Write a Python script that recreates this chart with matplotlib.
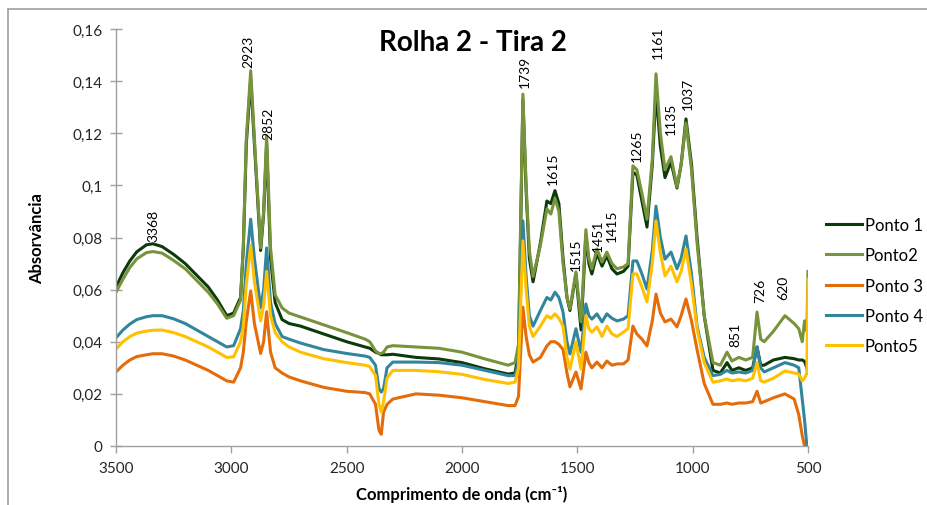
import matplotlib
matplotlib.use('Agg')
import matplotlib.pyplot as plt
from matplotlib.lines import Line2D
from matplotlib.ticker import FuncFormatter

plt.rcParams['font.family'] = ['Lato', 'DejaVu Sans']

# Wavenumbers (cm-1) shared by all spectra
wavenumber = [
    3500, 3470, 3440, 3410, 3368, 3340, 3300, 3250, 3200, 3150, 3100, 3060, 3020, 2990, 2960,
    2948, 2935, 2916, 2900, 2873, 2860, 2847, 2830, 2810, 2780, 2750,
    2700, 2600, 2500, 2420, 2400, 2375, 2360, 2350, 2340, 2325, 2300, 2200, 2100, 2000, 1900, 1800,
    1770, 1755, 1736, 1722, 1708, 1692, 1660, 1632, 1615, 1597, 1580, 1562, 1545, 1532,
    1506, 1484, 1463, 1450, 1437, 1415, 1393, 1372, 1350, 1328, 1300, 1280,
    1259, 1242, 1220, 1198, 1175, 1159, 1140, 1120, 1094, 1068, 1050, 1029, 1005,
    981, 950, 912, 880, 851, 830, 800, 770, 740, 721, 705, 690, 650, 600, 560, 540, 525, 515, 505, 500,
]

ponto1 = [
    0.061, 0.0665, 0.071, 0.0745, 0.0772, 0.0776, 0.0765, 0.0735, 0.070, 0.0655, 0.061, 0.056, 0.050, 0.051, 0.057,
    0.076, 0.116, 0.141, 0.116, 0.075, 0.089, 0.116, 0.072, 0.055, 0.0485, 0.047,
    0.046, 0.043, 0.040, 0.038, 0.0375, 0.036, 0.0355, 0.035, 0.035, 0.035, 0.0352, 0.034, 0.0334, 0.032, 0.0296, 0.0276,
    0.028, 0.036, 0.133, 0.098, 0.072, 0.063, 0.078, 0.094, 0.093, 0.098, 0.093, 0.072, 0.057, 0.052,
    0.066, 0.0445, 0.081, 0.070, 0.066, 0.074, 0.069, 0.073, 0.068, 0.066, 0.067, 0.069,
    0.105, 0.104, 0.094, 0.084, 0.108, 0.136, 0.115, 0.103, 0.109, 0.099, 0.108, 0.1255, 0.108,
    0.080, 0.050, 0.029, 0.028, 0.032, 0.029, 0.030, 0.029, 0.030, 0.038, 0.031, 0.031, 0.033, 0.034, 0.0335, 0.033, 0.033, 0.0325, 0.030, 0.028,
]

ponto2 = [
    0.059, 0.064, 0.0685, 0.0718, 0.0742, 0.0746, 0.074, 0.0712, 0.068, 0.0635, 0.059, 0.0545, 0.049, 0.050, 0.056,
    0.077, 0.118, 0.144, 0.118, 0.076, 0.090, 0.119, 0.076, 0.058, 0.053, 0.051,
    0.0495, 0.0465, 0.0435, 0.041, 0.040, 0.0365, 0.0355, 0.0355, 0.036, 0.038, 0.0385, 0.038, 0.0375, 0.036, 0.0334, 0.031,
    0.032, 0.039, 0.135, 0.100, 0.075, 0.065, 0.077, 0.091, 0.089, 0.095, 0.090, 0.070, 0.057, 0.0526,
    0.0668, 0.0476, 0.083, 0.072, 0.068, 0.0756, 0.0706, 0.0744, 0.070, 0.068, 0.0687, 0.070,
    0.1075, 0.106, 0.097, 0.087, 0.110, 0.1428, 0.120, 0.106, 0.111, 0.0994, 0.108, 0.124, 0.106,
    0.078, 0.050, 0.032, 0.031, 0.036, 0.0326, 0.034, 0.033, 0.034, 0.0514, 0.041, 0.040, 0.044, 0.050, 0.047, 0.045, 0.040, 0.048, 0.044, 0.067,
]

ponto3 = [
    0.0284, 0.031, 0.033, 0.0343, 0.035, 0.0354, 0.0354, 0.0345, 0.033, 0.031, 0.029, 0.027, 0.025, 0.0245, 0.030,
    0.036, 0.048, 0.0595, 0.047, 0.0355, 0.040, 0.0515, 0.036, 0.030, 0.028, 0.0265,
    0.025, 0.0225, 0.021, 0.0205, 0.020, 0.016, 0.006, 0.0045, 0.013, 0.016, 0.018, 0.020, 0.0195, 0.0185, 0.017, 0.0155,
    0.0155, 0.019, 0.0533, 0.042, 0.035, 0.0322, 0.034, 0.0384, 0.040, 0.040, 0.039, 0.037, 0.028, 0.0227,
    0.0284, 0.0219, 0.036, 0.032, 0.030, 0.0322, 0.030, 0.0326, 0.031, 0.0315, 0.0315, 0.033,
    0.046, 0.043, 0.041, 0.0384, 0.048, 0.0583, 0.051, 0.0476, 0.0487, 0.0457, 0.050, 0.0564, 0.048,
    0.037, 0.024, 0.016, 0.016, 0.0165, 0.016, 0.0165, 0.0165, 0.017, 0.021, 0.0165, 0.017, 0.0185, 0.020, 0.018, 0.012, 0.004, 0.000, -0.002, -0.003,
]

ponto4 = [
    0.0415, 0.0445, 0.0468, 0.0485, 0.0496, 0.050, 0.050, 0.0488, 0.047, 0.0445, 0.042, 0.040, 0.038, 0.0385, 0.045,
    0.052, 0.070, 0.087, 0.072, 0.053, 0.060, 0.076, 0.055, 0.047, 0.042, 0.041,
    0.0395, 0.037, 0.0355, 0.0345, 0.034, 0.031, 0.022, 0.0207, 0.022, 0.030, 0.0322, 0.0322, 0.032, 0.031, 0.029, 0.027,
    0.027, 0.033, 0.0864, 0.065, 0.050, 0.046, 0.052, 0.057, 0.056, 0.059, 0.057, 0.0514, 0.040, 0.0353,
    0.045, 0.036, 0.0545, 0.050, 0.0487, 0.0507, 0.0476, 0.0507, 0.049, 0.048, 0.0487, 0.050,
    0.071, 0.071, 0.066, 0.0602, 0.075, 0.092, 0.080, 0.0717, 0.0744, 0.068, 0.072, 0.0806, 0.066,
    0.046, 0.034, 0.027, 0.0275, 0.029, 0.028, 0.0284, 0.028, 0.029, 0.038, 0.030, 0.0284, 0.030, 0.032, 0.031, 0.030, 0.018, 0.010, 0.000, -0.002,
]

ponto5 = [
    0.0372, 0.040, 0.042, 0.0433, 0.0441, 0.0444, 0.0445, 0.0435, 0.042, 0.040, 0.038, 0.036, 0.034, 0.0342, 0.040,
    0.046, 0.062, 0.077, 0.063, 0.048, 0.054, 0.067, 0.050, 0.0435, 0.040, 0.038,
    0.036, 0.0335, 0.032, 0.031, 0.0305, 0.027, 0.016, 0.013, 0.017, 0.026, 0.029, 0.029, 0.0285, 0.0275, 0.0255, 0.024,
    0.0245, 0.030, 0.0787, 0.060, 0.046, 0.042, 0.046, 0.050, 0.049, 0.0507, 0.049, 0.046, 0.034, 0.0295,
    0.040, 0.0295, 0.050, 0.045, 0.0437, 0.0457, 0.042, 0.046, 0.043, 0.042, 0.0437, 0.045,
    0.066, 0.066, 0.061, 0.0553, 0.070, 0.0864, 0.074, 0.0653, 0.069, 0.063, 0.067, 0.0756, 0.062,
    0.045, 0.032, 0.0245, 0.025, 0.0257, 0.025, 0.0255, 0.025, 0.026, 0.032, 0.025, 0.0245, 0.026, 0.0288, 0.028, 0.0276, 0.025, 0.026, 0.028, 0.064,
]

series_names = ['Ponto 1', 'Ponto2', 'Ponto 3', 'Ponto 4', 'Ponto5']
series_values = [ponto1, ponto2, ponto3, ponto4, ponto5]
colors = ['#0B3A0B', '#77933C', '#E46C0A', '#31859C', '#FFC000']

# Peak annotations: label text and where its foot sits (cm-1, absorbance)
peak_labels = ['3368', '2923', '2852', '1739', '1615', '1515', '1451', '1415',
               '1265', '1161', '1135', '1037', '851', '726', '620']
peak_x = [3340, 2928, 2841, 1727, 1605, 1506, 1410, 1350,
          1242, 1150, 1094, 1020, 817, 708, 608]
peak_y = [0.0787, 0.1454, 0.1178, 0.1378, 0.1005, 0.0675, 0.0748, 0.0787,
          0.1094, 0.149, 0.1197, 0.1293, 0.0384, 0.0552, 0.0564]

for s in series_values:
    assert len(s) == len(wavenumber)

axis_grey = '#A0A0A0'

fig = plt.figure(figsize=(9.28, 5.06), dpi=100)
ax = fig.add_axes([116 / 928, 59 / 506, 692 / 928, 417 / 506])

for name, vals, c in zip(series_names, series_values, colors):
    ax.plot(wavenumber, vals, color=c, lw=2.2, label=name, solid_joinstyle='round')

for txt, x, y in zip(peak_labels, peak_x, peak_y):
    ax.text(x, y, txt, rotation=90, ha='center', va='bottom', fontsize=10, color='black')

ax.set_xlim(3500, 500)
ax.set_ylim(0, 0.16)
ax.set_xticks([3500, 3000, 2500, 2000, 1500, 1000, 500])
ax.set_yticks([0, 0.02, 0.04, 0.06, 0.08, 0.1, 0.12, 0.14, 0.16])
ax.yaxis.set_major_formatter(FuncFormatter(lambda v, p: f'{v:g}'.replace('.', ',')))

for side in ['top', 'right']:
    ax.spines[side].set_visible(False)
for side in ['left', 'bottom']:
    ax.spines[side].set_color(axis_grey)
    ax.spines[side].set_linewidth(1.0)

ax.tick_params(axis='y', direction='inout', length=9, width=1, color=axis_grey,
               labelsize=11, pad=5, labelcolor='#262626')
ax.tick_params(axis='x', direction='out', length=5, width=1, color=axis_grey,
               labelsize=11, pad=6, labelcolor='#262626')

fig.text(473 / 928, 1 - 43 / 506, 'Rolha 2 - Tira 2', fontsize=20, fontweight='bold',
         ha='center', va='center')
fig.text(37 / 928, 1 - 239 / 506, 'Absorvância', fontsize=12, fontweight='bold',
         rotation=90, ha='center', va='center')
fig.text(462 / 928, 1 - 495 / 506, 'Comprimento de onda (cm⁻¹)', fontsize=12,
         fontweight='bold', ha='center', va='center')

ax.legend(loc='center left', bbox_to_anchor=(826 / 928, 1 - 286.5 / 506),
          bbox_transform=fig.transFigure, frameon=False, fontsize=12,
          handlelength=2.15, handletextpad=0.18, labelspacing=0.86,
          borderpad=0, borderaxespad=0)

# chart area border (top and left edges are visible in the original)
fig.add_artist(Line2D([8 / 928, 1], [1 - 10 / 506, 1 - 10 / 506], color='#A6A6A6', lw=1.3))
fig.add_artist(Line2D([8 / 928, 8 / 928], [0, 1 - 10 / 506], color='#A6A6A6', lw=1.3))

fig.savefig('out.png', dpi=100)
plt.close(fig)
